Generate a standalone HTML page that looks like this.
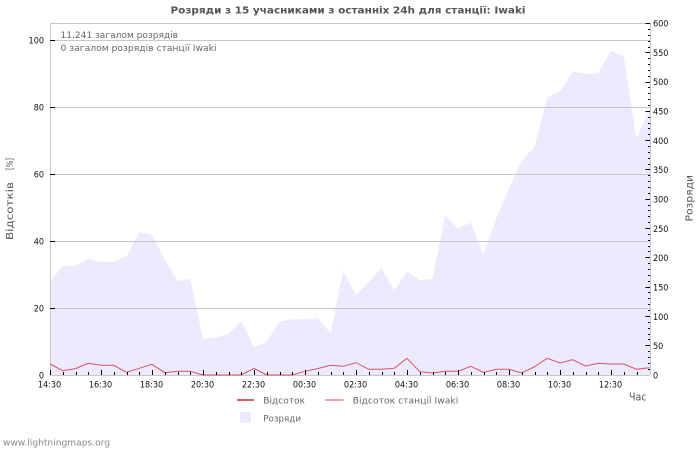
<!DOCTYPE html>
<html><head><meta charset="utf-8"><style>
html,body{margin:0;padding:0;background:#fff;}
svg{display:block;}
text{font-family:"DejaVu Sans Condensed","DejaVu Sans","Liberation Sans",sans-serif;}
</style></head><body>
<svg width="700" height="450" viewBox="0 0 700 450" xmlns="http://www.w3.org/2000/svg">
<rect width="700" height="450" fill="#fff"/>
<text x="170.5" y="13.5" font-size="10" font-weight="bold" fill="#555" textLength="355" lengthAdjust="spacingAndGlyphs">Розряди з 15 учасниками з останніх 24h для станції: Iwaki</text>

<!-- area -->
<polygon fill="#ebebfd" points="50,375 50,281.7 62.75,265.9 75.5,265.9 88.25,258.8 101,261.8 113.75,261.8 126.5,256.5 139.25,232.4 152,234.8 164.75,259.4 177.5,281.1 190.25,278.8 203,339.2 215.75,337.5 228.5,333.9 241.25,321 254,347.4 266.75,341.6 279.5,321.6 292.25,319.3 305,319.3 317.75,318.1 330.5,333.3 343.25,270.6 356,295.2 368.75,281.7 381.5,268.2 394.25,290.5 407,271.2 419.75,280.5 432.5,278.8 445.25,215.4 458,228.3 470.75,222.5 483.5,254.1 496.25,218.4 509,188.4 521.75,160.9 534.5,146.8 547.25,97.5 560,91.6 572.75,71.7 585.5,73.5 598.25,73.5 611,50.6 623.75,56.4 636.5,138.6 649.25,109.8 650,109.5 650,375"/>

<!-- grid -->
<g stroke="#c6c6cc" stroke-width="1">
<line x1="55" y1="40.5" x2="650" y2="40.5"/>
<line x1="55" y1="107.5" x2="650" y2="107.5"/>
<line x1="55" y1="174.5" x2="650" y2="174.5"/>
<line x1="55" y1="241.5" x2="650" y2="241.5"/>
<line x1="55" y1="308.5" x2="650" y2="308.5"/>
</g>
<!-- frame -->
<g stroke="#c8c8c8" stroke-width="1" fill="none">
<line x1="50" y1="23.5" x2="650" y2="23.5"/>
<line x1="50.5" y1="23" x2="50.5" y2="375"/>
<line x1="50" y1="375.5" x2="650" y2="375.5"/>
<line x1="650.5" y1="23" x2="650.5" y2="375"/>
</g>

<!-- red line -->
<polyline fill="none" stroke="#e05068" stroke-width="1" points="50,364 62.75,370.7 75.5,368.6 88.25,363.3 101,365.3 113.75,365.3 126.5,372.3 139.25,368.3 152,364.3 164.75,372.7 177.5,371.3 190.25,371.3 203,375 215.75,375 228.5,375 241.25,375 254,368.4 266.75,375 279.5,375 292.25,375 305,371.3 317.75,368.6 330.5,365.3 343.25,366.3 356,362.6 368.75,369.3 381.5,369.3 394.25,368.3 407,358.3 419.75,371.7 432.5,373 445.25,371.3 458,371.3 470.75,366.3 483.5,372.3 496.25,369.3 509,369.3 521.75,373 534.5,366.7 547.25,358.3 560,363 572.75,359.7 585.5,366 598.25,363.3 611,364 623.75,364 636.5,369.3 649.25,367.7"/>

<!-- left ticks -->
<g stroke="#000" stroke-width="1" shape-rendering="crispEdges">
<line x1="50" y1="40.5" x2="55" y2="40.5"/>
<line x1="50" y1="107.5" x2="55" y2="107.5"/>
<line x1="50" y1="174.5" x2="55" y2="174.5"/>
<line x1="50" y1="241.5" x2="55" y2="241.5"/>
<line x1="50" y1="308.5" x2="55" y2="308.5"/>
</g>
<g font-size="9" fill="#111" text-anchor="end">
<text x="44" y="43.5">100</text>
<text x="44" y="110.5">80</text>
<text x="44" y="177.5">60</text>
<text x="44" y="244.5">40</text>
<text x="44" y="311.5">20</text>
<text x="44" y="378.5">0</text>
</g>

<!-- bottom ticks -->
<g stroke="#000" stroke-width="1" shape-rendering="crispEdges">
<line x1="50.5" y1="370" x2="50.5" y2="375"/>
<line x1="63.5" y1="372" x2="63.5" y2="375"/>
<line x1="76.5" y1="372" x2="76.5" y2="375"/>
<line x1="88.5" y1="372" x2="88.5" y2="375"/>
<line x1="101.5" y1="370" x2="101.5" y2="375"/>
<line x1="114.5" y1="372" x2="114.5" y2="375"/>
<line x1="127.5" y1="372" x2="127.5" y2="375"/>
<line x1="139.5" y1="372" x2="139.5" y2="375"/>
<line x1="152.5" y1="370" x2="152.5" y2="375"/>
<line x1="165.5" y1="372" x2="165.5" y2="375"/>
<line x1="178.5" y1="372" x2="178.5" y2="375"/>
<line x1="190.5" y1="372" x2="190.5" y2="375"/>
<line x1="203.5" y1="370" x2="203.5" y2="375"/>
<line x1="216.5" y1="372" x2="216.5" y2="375"/>
<line x1="229.5" y1="372" x2="229.5" y2="375"/>
<line x1="241.5" y1="372" x2="241.5" y2="375"/>
<line x1="254.5" y1="370" x2="254.5" y2="375"/>
<line x1="267.5" y1="372" x2="267.5" y2="375"/>
<line x1="280.5" y1="372" x2="280.5" y2="375"/>
<line x1="292.5" y1="372" x2="292.5" y2="375"/>
<line x1="305.5" y1="370" x2="305.5" y2="375"/>
<line x1="318.5" y1="372" x2="318.5" y2="375"/>
<line x1="331.5" y1="372" x2="331.5" y2="375"/>
<line x1="343.5" y1="372" x2="343.5" y2="375"/>
<line x1="356.5" y1="370" x2="356.5" y2="375"/>
<line x1="369.5" y1="372" x2="369.5" y2="375"/>
<line x1="382.5" y1="372" x2="382.5" y2="375"/>
<line x1="394.5" y1="372" x2="394.5" y2="375"/>
<line x1="407.5" y1="370" x2="407.5" y2="375"/>
<line x1="420.5" y1="372" x2="420.5" y2="375"/>
<line x1="433.5" y1="372" x2="433.5" y2="375"/>
<line x1="445.5" y1="372" x2="445.5" y2="375"/>
<line x1="458.5" y1="370" x2="458.5" y2="375"/>
<line x1="471.5" y1="372" x2="471.5" y2="375"/>
<line x1="484.5" y1="372" x2="484.5" y2="375"/>
<line x1="496.5" y1="372" x2="496.5" y2="375"/>
<line x1="509.5" y1="370" x2="509.5" y2="375"/>
<line x1="522.5" y1="372" x2="522.5" y2="375"/>
<line x1="535.5" y1="372" x2="535.5" y2="375"/>
<line x1="547.5" y1="372" x2="547.5" y2="375"/>
<line x1="560.5" y1="370" x2="560.5" y2="375"/>
<line x1="573.5" y1="372" x2="573.5" y2="375"/>
<line x1="586.5" y1="372" x2="586.5" y2="375"/>
<line x1="598.5" y1="372" x2="598.5" y2="375"/>
<line x1="611.5" y1="370" x2="611.5" y2="375"/>
<line x1="624.5" y1="372" x2="624.5" y2="375"/>
<line x1="637.5" y1="372" x2="637.5" y2="375"/>
</g>
<g font-size="9" fill="#111" text-anchor="middle">
<text x="49.5" y="387.5">14:30</text>
<text x="100.5" y="387.5">16:30</text>
<text x="151.5" y="387.5">18:30</text>
<text x="202.5" y="387.5">20:30</text>
<text x="253.5" y="387.5">22:30</text>
<text x="304.5" y="387.5">00:30</text>
<text x="355.5" y="387.5">02:30</text>
<text x="406.5" y="387.5">04:30</text>
<text x="457.5" y="387.5">06:30</text>
<text x="508.5" y="387.5">08:30</text>
<text x="559.5" y="387.5">10:30</text>
<text x="610.5" y="387.5">12:30</text>
</g>

<!-- right ticks -->
<g stroke="#000" stroke-width="1" shape-rendering="crispEdges">
<line x1="645.5" y1="23.5" x2="650" y2="23.5"/>
<line x1="648" y1="29.5" x2="650" y2="29.5"/>
<line x1="648" y1="35.5" x2="650" y2="35.5"/>
<line x1="648" y1="41.5" x2="650" y2="41.5"/>
<line x1="648" y1="47.5" x2="650" y2="47.5"/>
<line x1="645.5" y1="52.5" x2="650" y2="52.5"/>
<line x1="648" y1="58.5" x2="650" y2="58.5"/>
<line x1="648" y1="64.5" x2="650" y2="64.5"/>
<line x1="648" y1="70.5" x2="650" y2="70.5"/>
<line x1="648" y1="76.5" x2="650" y2="76.5"/>
<line x1="645.5" y1="82.5" x2="650" y2="82.5"/>
<line x1="648" y1="87.5" x2="650" y2="87.5"/>
<line x1="648" y1="93.5" x2="650" y2="93.5"/>
<line x1="648" y1="99.5" x2="650" y2="99.5"/>
<line x1="648" y1="105.5" x2="650" y2="105.5"/>
<line x1="645.5" y1="111.5" x2="650" y2="111.5"/>
<line x1="648" y1="117.5" x2="650" y2="117.5"/>
<line x1="648" y1="123.5" x2="650" y2="123.5"/>
<line x1="648" y1="128.5" x2="650" y2="128.5"/>
<line x1="648" y1="134.5" x2="650" y2="134.5"/>
<line x1="645.5" y1="140.5" x2="650" y2="140.5"/>
<line x1="648" y1="146.5" x2="650" y2="146.5"/>
<line x1="648" y1="152.5" x2="650" y2="152.5"/>
<line x1="648" y1="158.5" x2="650" y2="158.5"/>
<line x1="648" y1="164.5" x2="650" y2="164.5"/>
<line x1="645.5" y1="169.5" x2="650" y2="169.5"/>
<line x1="648" y1="175.5" x2="650" y2="175.5"/>
<line x1="648" y1="181.5" x2="650" y2="181.5"/>
<line x1="648" y1="187.5" x2="650" y2="187.5"/>
<line x1="648" y1="193.5" x2="650" y2="193.5"/>
<line x1="645.5" y1="199.5" x2="650" y2="199.5"/>
<line x1="648" y1="205.5" x2="650" y2="205.5"/>
<line x1="648" y1="210.5" x2="650" y2="210.5"/>
<line x1="648" y1="216.5" x2="650" y2="216.5"/>
<line x1="648" y1="222.5" x2="650" y2="222.5"/>
<line x1="645.5" y1="228.5" x2="650" y2="228.5"/>
<line x1="648" y1="234.5" x2="650" y2="234.5"/>
<line x1="648" y1="240.5" x2="650" y2="240.5"/>
<line x1="648" y1="246.5" x2="650" y2="246.5"/>
<line x1="648" y1="251.5" x2="650" y2="251.5"/>
<line x1="645.5" y1="257.5" x2="650" y2="257.5"/>
<line x1="648" y1="263.5" x2="650" y2="263.5"/>
<line x1="648" y1="269.5" x2="650" y2="269.5"/>
<line x1="648" y1="275.5" x2="650" y2="275.5"/>
<line x1="648" y1="281.5" x2="650" y2="281.5"/>
<line x1="645.5" y1="287.5" x2="650" y2="287.5"/>
<line x1="648" y1="292.5" x2="650" y2="292.5"/>
<line x1="648" y1="298.5" x2="650" y2="298.5"/>
<line x1="648" y1="304.5" x2="650" y2="304.5"/>
<line x1="648" y1="310.5" x2="650" y2="310.5"/>
<line x1="645.5" y1="316.5" x2="650" y2="316.5"/>
<line x1="648" y1="322.5" x2="650" y2="322.5"/>
<line x1="648" y1="328.5" x2="650" y2="328.5"/>
<line x1="648" y1="334.5" x2="650" y2="334.5"/>
<line x1="648" y1="339.5" x2="650" y2="339.5"/>
<line x1="645.5" y1="345.5" x2="650" y2="345.5"/>
<line x1="648" y1="351.5" x2="650" y2="351.5"/>
<line x1="648" y1="357.5" x2="650" y2="357.5"/>
<line x1="648" y1="363.5" x2="650" y2="363.5"/>
<line x1="648" y1="369.5" x2="650" y2="369.5"/>
</g>
<g font-size="9" fill="#111">
<text x="653" y="26.5">600</text>
<text x="653" y="55.8">550</text>
<text x="653" y="85.2">500</text>
<text x="653" y="114.5">450</text>
<text x="653" y="143.8">400</text>
<text x="653" y="173.2">350</text>
<text x="653" y="202.5">300</text>
<text x="653" y="231.8">250</text>
<text x="653" y="261.2">200</text>
<text x="653" y="290.5">150</text>
<text x="653" y="319.8">100</text>
<text x="653" y="349.2">50</text>
<text x="653" y="378.5">0</text>
</g>

<!-- stats -->
<text x="60.5" y="38" font-size="9" fill="#666" textLength="117.5" lengthAdjust="spacingAndGlyphs">11,241 загалом розрядів</text>
<text x="60.5" y="51" font-size="9" fill="#666" textLength="156" lengthAdjust="spacingAndGlyphs">0 загалом розрядів станції Iwaki</text>

<!-- axis titles -->
<g transform="translate(13,240) rotate(-90)" font-size="10" fill="#555">
<text x="0" y="0" textLength="58" lengthAdjust="spacingAndGlyphs">Відсотків</text>
<text x="70" y="0" textLength="12" lengthAdjust="spacingAndGlyphs">[%]</text>
</g>
<g transform="translate(692.5,221.5) rotate(-90)" font-size="10" fill="#555">
<text x="0" y="0" textLength="46.5" lengthAdjust="spacingAndGlyphs">Розряди</text>
</g>
<text x="629" y="400.5" font-size="10.5" fill="#555" textLength="17.5" lengthAdjust="spacingAndGlyphs">Час</text>

<!-- legend -->
<line x1="237" y1="400" x2="254" y2="400" stroke="#e05a64" stroke-width="2"/>
<text x="263.3" y="403.5" font-size="9" fill="#666" textLength="41.7" lengthAdjust="spacingAndGlyphs">Відсоток</text>
<line x1="325" y1="400" x2="343.5" y2="400" stroke="#ffa0a0" stroke-width="2"/>
<text x="352.7" y="403.5" font-size="9" fill="#666" textLength="105.6" lengthAdjust="spacingAndGlyphs">Відсоток станції Iwaki</text>
<rect x="240" y="412" width="11" height="11" fill="#ebebfd"/>
<text x="263.3" y="421.5" font-size="9" fill="#666" textLength="37.7" lengthAdjust="spacingAndGlyphs">Розряди</text>

<text x="3" y="445.5" font-size="9" fill="#888" textLength="107" lengthAdjust="spacingAndGlyphs">www.lightningmaps.org</text>
</svg>
</body></html>
